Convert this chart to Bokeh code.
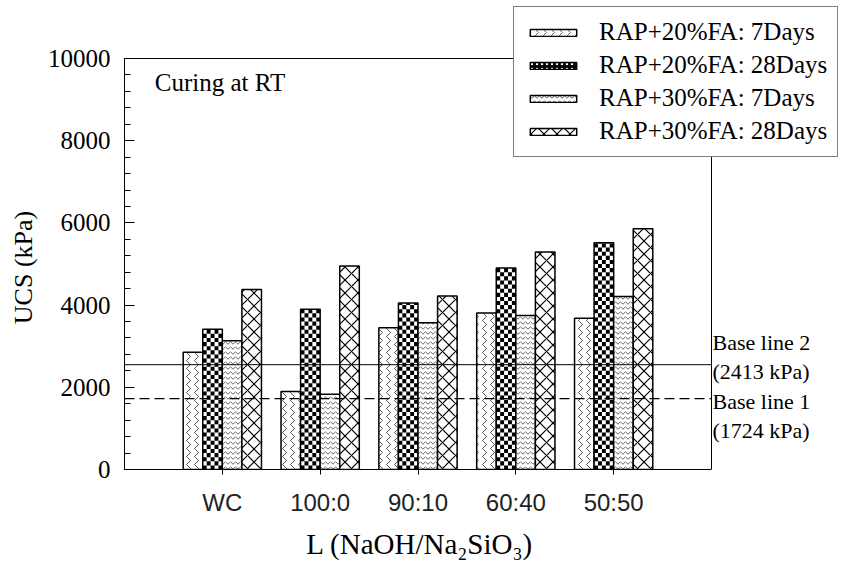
import math
from bokeh.plotting import figure
from bokeh.models import (Range1d, FixedTicker, SingleIntervalTicker, Label, Legend,
                          LegendItem, ColumnDataSource)
from bokeh.embed import file_html
from bokeh.resources import INLINE

# ---------------- data ----------------
categories = ["WC", "100:0", "90:10", "60:40", "50:50"]
series_names = ["RAP+20%FA: 7Days", "RAP+20%FA: 28Days",
                "RAP+30%FA: 7Days", "RAP+30%FA: 28Days"]
fa20_7d = [2850, 1900, 3450, 3810, 3680]
fa20_28d = [3410, 3900, 4050, 4900, 5520]
fa30_7d = [3130, 1830, 3570, 3750, 4210]
fa30_28d = [4380, 4950, 4220, 5290, 5860]
baseline_values = [2550, 1724]
baseline_texts = [["Base line 2", "(2413 kPa)"], ["Base line 1", "(1724 kPa)"]]
x_min, x_max = 0, 6
y_min, y_max = 0, 10000

SERIF = "Liberation Serif"
SANS = "Liberation Sans"
NB = "\u00a0"

# frame spans from the y axis to the right edge of the page and to its top,
# so that the legend and the base-line labels are not clipped
x_end = x_max * (845 - 124) / (711 - 124)
y_end = y_max * 469 / 411

p = figure(width=845, height=571, output_backend="svg", toolbar_location=None,
           x_range=Range1d(x_min, x_end), y_range=Range1d(y_min, y_end))
p.min_border_left = 124
p.min_border_right = 0
p.min_border_top = 0
p.min_border_bottom = 102
p.xgrid.visible = False
p.ygrid.visible = False
p.outline_line_color = None
p.background_fill_color = "white"
p.border_fill_color = "white"

series = [fa20_7d, fa20_28d, fa30_7d, fa30_28d]
offsets = [-0.3, -0.1, 0.1, 0.3]
BAR_W = 0.2
styles = [
    dict(hatch_pattern="vertical_wave", hatch_scale=8, hatch_weight=0.8, hatch_color="#333333"),
    None,  # checkerboard, drawn from cells below
    dict(hatch_pattern="horizontal_wave", hatch_scale=5, hatch_weight=0.9, hatch_color="#555555"),
    dict(hatch_pattern="diagonal_cross", hatch_scale=13, hatch_weight=1.2, hatch_color="black"),
]

items = []
for name, vals, off, st in zip(series_names, series, offsets, styles):
    xs = [i + 1 + off for i in range(len(categories))]
    src = ColumnDataSource(dict(x=xs, top=vals))
    if st is not None:
        r = p.vbar(x="x", top="top", bottom=0, width=BAR_W, source=src,
                   fill_color="white", line_color="black", line_width=1.5, **st)
        items.append(LegendItem(label=name, renderers=[r]))
    else:
        p.vbar(x="x", top="top", bottom=0, width=BAR_W, source=src,
               fill_color="white", line_color=None)
        ncol, cell_h = 5, 100.0
        cw = BAR_W / ncol
        L, R, B, T = [], [], [], []
        for xc, v in zip(xs, vals):
            nrow = int(math.ceil(v / cell_h))
            for rr in range(nrow):
                for cc in range(ncol):
                    if (rr + cc) % 2 == 0:
                        L.append(xc - BAR_W / 2 + cc * cw)
                        R.append(xc - BAR_W / 2 + (cc + 1) * cw)
                        B.append(rr * cell_h)
                        T.append(min((rr + 1) * cell_h, v))
        p.quad(left=L, right=R, bottom=B, top=T, fill_color="black", line_color=None)
        p.vbar(x="x", top="top", bottom=0, width=BAR_W, source=src,
               fill_color=None, line_color="black", line_width=1.5)
        # legend swatch (its only bar lies outside the visible range)
        sw = p.vbar(x=[-5], top=[1], bottom=0, width=BAR_W, fill_color="black",
                    line_color="black", line_width=1.5, hatch_pattern="dot",
                    hatch_color="white", hatch_scale=5)
        items.append(LegendItem(label=name, renderers=[sw]))

# frame box (top and right sides)
p.segment(x0=[x_min, x_max], y0=[y_max, y_min], x1=[x_max, x_max], y1=[y_max, y_max],
          line_color="black", line_width=1)

# base lines
p.segment(x0=[x_min], y0=[baseline_values[0]], x1=[x_max], y1=[baseline_values[0]],
          line_color="black", line_width=1)
p.segment(x0=[x_min], y0=[baseline_values[1]], x1=[x_max], y1=[baseline_values[1]],
          line_color="black", line_width=1.2, line_dash="10 5")

# axes
p.xaxis.bounds = (x_min, x_max)
p.xaxis.ticker = FixedTicker(ticks=[i + 1 for i in range(len(categories))])
p.xaxis.major_label_overrides = {i + 1: c for i, c in enumerate(categories)}
p.xaxis.minor_tick_line_color = None
p.xaxis.major_tick_in = 0
p.xaxis.major_tick_out = 5
p.xaxis.major_label_text_font = SANS
p.xaxis.major_label_text_font_size = "24px"
p.xaxis.major_label_text_color = "#222222"
p.xaxis.major_label_standoff = 14
p.xaxis.axis_label = "L (NaOH/Na\u2082SiO\u2083)" + NB * 18
p.xaxis.axis_label_text_font = SERIF
p.xaxis.axis_label_text_font_size = "29px"
p.xaxis.axis_label_text_font_style = "normal"
p.xaxis.axis_label_text_color = "black"
p.xaxis.axis_label_standoff = 9

p.yaxis.bounds = (y_min, y_max)
p.yaxis.ticker = SingleIntervalTicker(interval=2000, num_minor_ticks=5)
p.yaxis.major_tick_in = 10
p.yaxis.major_tick_out = 0
p.yaxis.minor_tick_in = 6
p.yaxis.minor_tick_out = 0
p.yaxis.major_label_text_font = SERIF
p.yaxis.major_label_text_font_size = "25px"
p.yaxis.major_label_text_color = "black"
p.yaxis.major_label_standoff = 14
p.yaxis.axis_label = "UCS (kPa)" + NB * 10
p.yaxis.axis_label_text_font = SERIF
p.yaxis.axis_label_text_font_size = "26px"
p.yaxis.axis_label_text_font_style = "normal"
p.yaxis.axis_label_text_color = "black"
p.yaxis.axis_label_standoff = 7

for ax in (p.xaxis, p.yaxis):
    ax.axis_line_color = "black"
    ax.major_tick_line_color = "black"
p.yaxis.minor_tick_line_color = "black"

# annotations
p.add_layout(Label(x=0.31, y=9420, text="Curing at RT", text_font=SERIF,
                   text_font_size="25px", text_baseline="middle", text_color="black"))
lab_y = [3080, 2390, 1660, 960]
texts = baseline_texts[0] + baseline_texts[1]
for t, yv in zip(texts, lab_y):
    p.add_layout(Label(x=x_max, y=yv, x_offset=1, text=t, text_font=SERIF,
                       text_font_size="22px", text_baseline="middle", text_color="black"))

legend = Legend(items=items, location=(389, 312), orientation="vertical")
legend.label_text_font = SERIF
legend.label_text_font_size = "25px"
legend.label_text_color = "black"
legend.glyph_width = 58
legend.glyph_height = 9
legend.label_standoff = 17
legend.label_height = 30
legend.spacing = 3
legend.padding = 10
legend.margin = 0
legend.border_line_color = "black"
legend.border_line_width = 1
legend.background_fill_alpha = 1
legend.background_fill_color = "white"
p.add_layout(legend)

open("out.html", "w").write(file_html(p, INLINE))
